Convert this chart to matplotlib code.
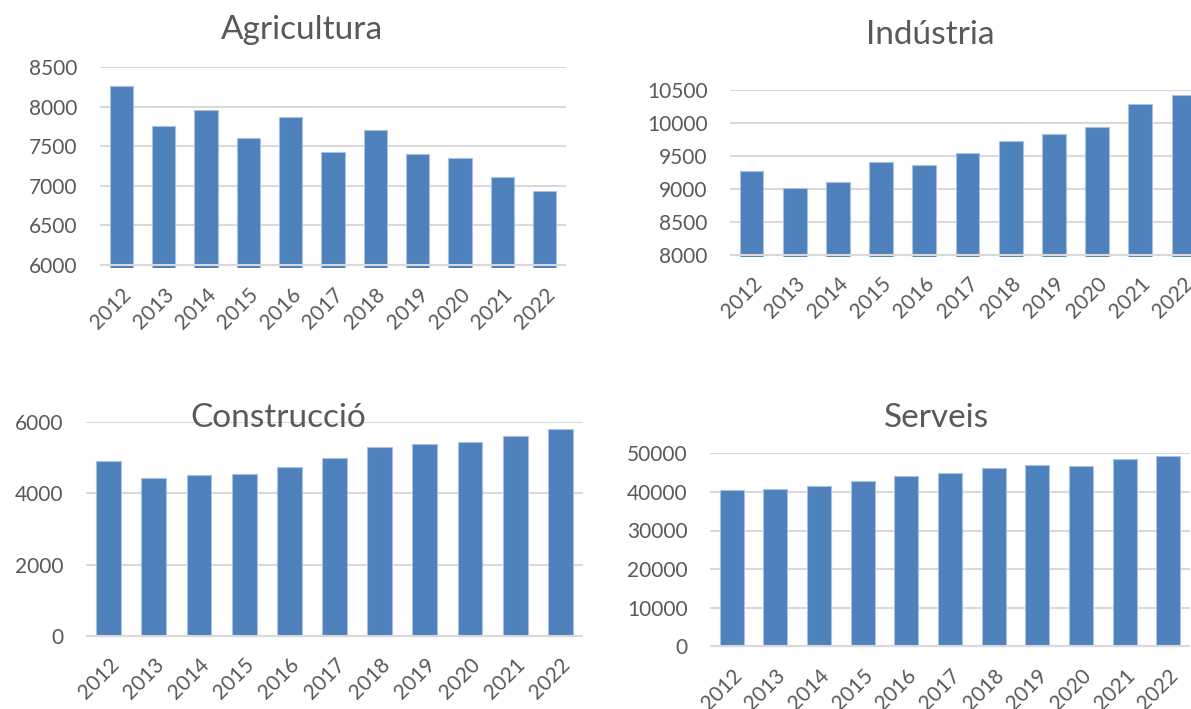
import numpy as np
import matplotlib.pyplot as plt

years = ["2012", "2013", "2014", "2015", "2016", "2017", "2018", "2019", "2020", "2021", "2022"]
agricultura = [8264, 7754, 7956, 7602, 7868, 7433, 7703, 7400, 7349, 7109, 6940]
industria = [9270, 9018, 9094, 9401, 9366, 9542, 9729, 9830, 9935, 10278, 10424]
construccio = [4913, 4425, 4509, 4547, 4744, 4997, 5316, 5400, 5456, 5625, 5803]
serveis = [40534, 40792, 41480, 42771, 44234, 45009, 46299, 46902, 46816, 48451, 49312]

W, H = 1191, 709
BAR = "#4F81BD"
GRID = "#D9D9D9"
TXT = "#595959"

plt.rcParams["font.family"] = ["Lato", "DejaVu Sans"]

fig = plt.figure(figsize=(W / 100, H / 100), dpi=100)

# (title, values, ymin, ymax, step, left px, right px, top px, bottom px, title x, title y)
panels = [
    ("Agricultura", agricultura, 6000, 8500, 500, 100, 566, 67.3, 265, 302, 30),
    ("Indústria", industria, 8000, 10500, 500, 730, 1205, 89.7, 254.7, 930, 35),
    ("Construcció", construccio, 0, 6000, 2000, 86, 583, 422.3, 635.7, 278, 418),
    ("Serveis", serveis, 0, 50000, 10000, 710, 1190, 453.3, 646.3, 936, 418),
]

for title, vals, ymin, ymax, step, x0, x1, ytop, ybot, tx, ty in panels:
    ext = 2.5  # bars poke a bit below the baseline
    pad = (ymax - ymin) / (ybot - ytop) * ext
    ax = fig.add_axes([x0 / W, 1 - (ybot + ext) / H, (x1 - x0) / W, (ybot + ext - ytop) / H])
    x = np.arange(len(years))
    ax.bar(x, vals, width=0.55, color=BAR, edgecolor="#A9C1E0", linewidth=0.8, zorder=2)
    ax.set_xlim(-0.5, len(years) - 0.5)
    ax.set_ylim(ymin - pad, ymax)
    ax.set_yticks(np.arange(ymin, ymax + 1, step))
    ax.grid(axis="y", color=GRID, linewidth=1.5, zorder=0)
    ax.set_axisbelow(True)
    ax.axhline(ymin, color=GRID, linewidth=1.5, zorder=3)
    for s in ax.spines.values():
        s.set_visible(False)
    ax.tick_params(length=0, labelsize=15, labelcolor=TXT)
    ax.tick_params(axis="y", pad=16)
    ax.set_xticks(x)
    ax.set_xticklabels(years, rotation=45, ha="right", va="top", rotation_mode="anchor")
    ax.tick_params(axis="x", pad=12)
    fig.text(tx / W, 1 - ty / H, title, ha="center", va="center", fontsize=24, color=TXT)

fig.savefig("out.png", dpi=100)
